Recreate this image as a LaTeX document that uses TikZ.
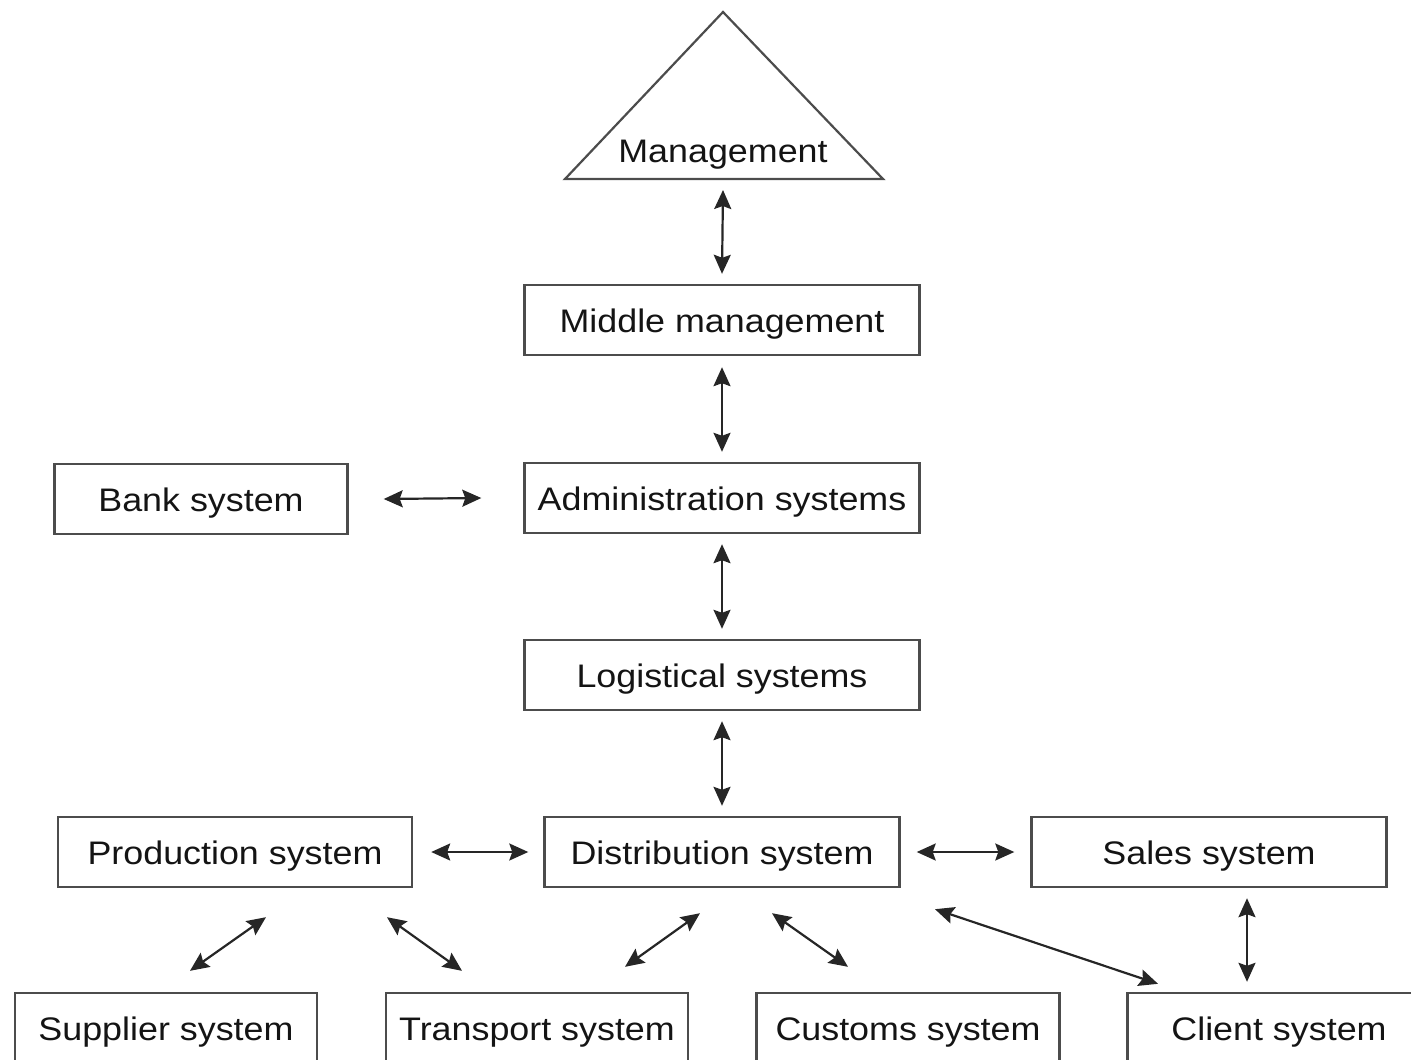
\documentclass[tikz,border=0pt]{standalone}
\usepackage{fontspec}
\setmainfont{Liberation Sans}[FakeStretch=1.1]
\usetikzlibrary{arrows.meta,positioning,calc}
\tikzset{
    >={Stealth[length=19pt,width=17pt,inset=3pt]},
    sys-box/.style={
        rectangle,
        draw=black!70,
        line width=2.4pt,
        minimum height=70,
        inner sep=0pt,
        text=black!92,
        font=\fontsize{32.6pt}{39pt}\selectfont,
        text height=29pt,
        text depth=4pt
    },
    sys-text/.style={
        inner sep=0pt,
        text=black!92,
        font=\fontsize{32.6pt}{39pt}\selectfont,
        text height=29pt,
        text depth=4pt
    },
    mgmt-line/.style={
        draw=black!70,
        line width=2.2pt,
        line join=miter
    },
    sys-link/.style={
        draw=black!85,
        <->,
        line width=2.2pt
    }
}

\begin{document}
\begin{tikzpicture}[x=1pt,y=-1pt]
        \clip (0,0) rectangle (1411,1060);
        % management triangle
        \draw [mgmt-line] (565,179) -- (723,12) -- (883,179) -- cycle;
        \coordinate (Base) at (723,179);
        \node [sys-text] (Mgmt) at (723,150) {Management};
        % central column
        \node [sys-box,minimum width=395] (Mid) at (722,320) {Middle management};
        \node [sys-box,minimum width=395] (Adm) at (722,498) {Administration systems};
        \node [sys-box,minimum width=293] (Bank) at (201,499) {Bank system};
        \node [sys-box,minimum width=395] (Log) at (722,675) {Logistical systems};
        % operational level
        \node [sys-box,minimum width=354] (Prod) at (235,852) {Production system};
        \node [sys-box,minimum width=355] (Dist) at (722,852) {Distribution system};
        \node [sys-box,minimum width=355] (Sales) at (1209,852) {Sales system};
        % external systems
        \node [sys-box,minimum width=302] (Sup) at (166,1028) {Supplier system};
        \node [sys-box,minimum width=302] (Trans) at (537,1028) {Transport system};
        \node [sys-box,minimum width=303] (Cust) at (908,1028) {Customs system};
        \node [sys-box,minimum width=303] (Cli) at (1279,1028) {Client system};
        % links
        \draw [sys-link] ($(Base)+(0,11)$) -- ($(Mid.north)+(0,-10)$);
        \draw [sys-link] ($(Mid.south)+(0,11)$) -- ($(Adm.north)+(0,-10)$);
        \draw [sys-link] ($(Adm.south)+(0,10)$) -- ($(Log.north)+(0,-10)$);
        \draw [sys-link] ($(Log.south)+(0,10)$) -- ($(Dist.north)+(0,-10)$);
        \draw [sys-link] ($(Bank.east)+(35,0)$) -- ($(Adm.west)+(-42,0)$);
        \draw [sys-link] ($(Prod.east)+(18,0)$) -- ($(Dist.west)+(-15,0)$);
        \draw [sys-link] ($(Dist.east)+(16,0)$) -- ($(Sales.west)+(-16,0)$);
        \draw [sys-link] ($(Sales.south)+(38,10)$) -- ($(Cli.north)+(-32,-10)$);
        \draw [sys-link] ($(Prod.south)+(31,29)$) -- ($(Sup.north)+(24,-21)$);
        \draw [sys-link] ($(Prod.south)+(152,29)$) -- ($(Trans.north)+(-75,-21)$);
        \draw [sys-link] ($(Dist.south)+(-22,25)$) -- ($(Trans.north)+(88,-25)$);
        \draw [sys-link] ($(Dist.south)+(50,25)$) -- ($(Cust.north)+(-60,-25)$);
        \draw [sys-link] ($(Dist.south)+(213,21)$) -- ($(Cli.north)+(-121,-8)$);
\end{tikzpicture}
\end{document}
